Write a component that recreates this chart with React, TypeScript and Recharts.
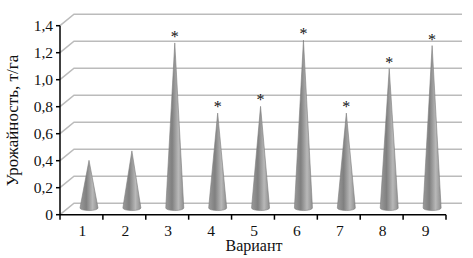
import { Bar, CartesianGrid, ComposedChart, LabelList, XAxis, YAxis } from "recharts";

const variants = ["1", "2", "3", "4", "5", "6", "7", "8", "9"];
const yields = [0.36, 0.43, 1.23, 0.71, 0.76, 1.25, 0.71, 1.04, 1.21];
const marks = ["", "", "*", "*", "*", "*", "*", "*", "*"];
const yTicks = [0, 0.2, 0.4, 0.6, 0.8, 1, 1.2, 1.4];

const data = variants.map((variant, i) => ({
  variant,
  value: yields[i],
  mark: marks[i],
}));

const FONT = "'Liberation Serif', 'Times New Roman', serif";
// pseudo-3D depth of the chart floor
const DEPTH_X = 14;
const DEPTH_Y = 11.5;

function formatTick(v: number) {
  return v === 0 ? "0" : v.toFixed(1).replace(".", ",");
}

function WallLine({ x1, y1, x2, y2 }: any) {
  return (
    <polyline
      points={`${x1},${y1} ${x1 + DEPTH_X},${y1 - DEPTH_Y} ${x2 + DEPTH_X + 2},${y2 - DEPTH_Y}`}
      fill="none"
      stroke="#bbbbbb"
      strokeWidth={1.5}
    />
  );
}

function Cone({ x, y, width, height }: any) {
  const cx = x + width / 2 + DEPTH_X / 2 + 1;
  const base = y + height - DEPTH_Y / 2;
  const tip = y - DEPTH_Y / 2;
  const r = width / 2;
  return (
    <path
      d={`M${cx},${tip} L${cx + r},${base - 1} A${r},2.6 0 0 1 ${cx - r},${base - 1} Z`}
      fill="url(#coneFill)"
      stroke="#7c7c7c"
      strokeWidth={0.6}
    />
  );
}

function Star({ x, y, width, value }: any) {
  return (
    <text
      x={x + width / 2 + DEPTH_X / 2 + 1}
      y={y - DEPTH_Y / 2 - 1}
      textAnchor="middle"
      fontFamily={FONT}
      fontSize={16}
      fill="#111"
    >
      {value}
    </text>
  );
}

function VariantTick({ x, y, payload, index }: any) {
  const band = 386 / variants.length;
  const left = x - band / 2;
  return (
    <g>
      <line x1={left} y1={y - 8} x2={left} y2={y - 3} stroke="#000" strokeWidth={1.5} />
      {index === variants.length - 1 && (
        <line x1={left + band} y1={y - 8} x2={left + band} y2={y - 3} stroke="#000" strokeWidth={1.5} />
      )}
      <text x={x + 1} y={y + 13} textAnchor="middle" fontFamily={FONT} fontSize={15.5} fill="#111">
        {payload.value}
      </text>
    </g>
  );
}

export default function App() {
  return (
    <div style={{ position: "absolute", left: 0, top: 0 }}>
      <ComposedChart
        width={473}
        height={258}
        data={data}
        barCategoryGap={0}
        margin={{ top: 25.7, right: 27, bottom: 0, left: 0 }}
      >
        <defs>
          <linearGradient id="coneFill" x1="0" y1="0" x2="1" y2="0">
            <stop offset="0" stopColor="#9a9a9a" />
            <stop offset="0.35" stopColor="#808080" />
            <stop offset="0.7" stopColor="#b8b8b8" />
            <stop offset="1" stopColor="#8e8e8e" />
          </linearGradient>
        </defs>
        <CartesianGrid vertical={false} horizontal={(p: any) => <WallLine key={p.key} {...p} />} />
        <XAxis
          dataKey="variant"
          axisLine={{ stroke: "#000", strokeWidth: 1.5 }}
          tickLine={false}
          tick={<VariantTick />}
          interval={0}
          height={43.3}
          label={{
            value: "Вариант",
            position: "insideBottom",
            offset: 7,
            dx: 1,
            style: { fontFamily: FONT, fontSize: 16, fill: "#111" },
          }}
        />
        <YAxis
          domain={[0, 1.4]}
          ticks={yTicks}
          interval={0}
          width={60}
          tickFormatter={formatTick}
          axisLine={{ stroke: "#000", strokeWidth: 1.5 }}
          tickLine={{ stroke: "#000", strokeWidth: 1.5 }}
          tickSize={4}
          tickMargin={3}
          tick={{ fontFamily: FONT, fontSize: 15.5, fill: "#111" }}
          label={{
            value: "Урожайность, т/га",
            angle: -90,
            position: "insideLeft",
            offset: 12,
            dy: 66,
            style: { fontFamily: FONT, fontSize: 17, fill: "#111" },
          }}
        />
        <Bar dataKey="value" barSize={18} shape={<Cone />} isAnimationActive={false}>
          <LabelList dataKey="mark" content={<Star />} />
        </Bar>
      </ComposedChart>
    </div>
  );
}
